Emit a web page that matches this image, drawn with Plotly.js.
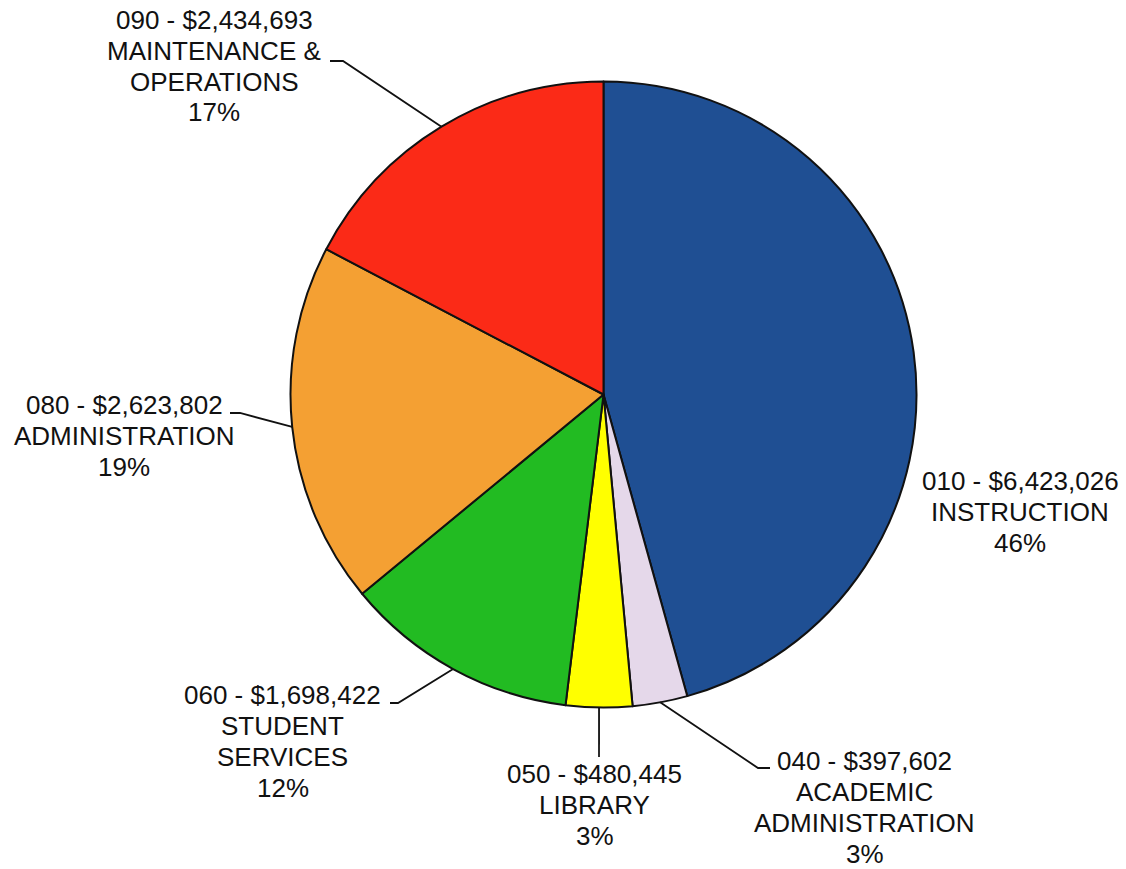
<!DOCTYPE html>
<html>
<head>
<meta charset="utf-8">
<script src="https://cdn.plot.ly/plotly-3.0.1.min.js"></script>
<style>
  html, body { margin: 0; padding: 0; background: #ffffff; }
  #chart { width: 1126px; height: 869px; }
</style>
</head>
<body>
<div id="chart"></div>
<script>
// Budget by program code
const codes = ['010', '040', '050', '060', '080', '090'];
const nameLines = [
  ['INSTRUCTION'],
  ['ACADEMIC', 'ADMINISTRATION'],
  ['LIBRARY'],
  ['STUDENT', 'SERVICES'],
  ['ADMINISTRATION'],
  ['MAINTENANCE &', 'OPERATIONS']
];
const amounts = [6423026, 397602, 480445, 1698422, 2623802, 2434693];
const colors = ['#1f4f93', '#e5d8ea', '#ffff00', '#22bb22', '#f4a033', '#fb2a17'];

// Page geometry (pixels)
const W = 1126, H = 869;
const CX = 603.5, CY = 394.5, R = 313;

// Label block placement: centre x and first-line y, plus leader elbow/end points
const labelPos = [
  { x: 1020,  y: 480.5, leader: null },
  { x: 864.5, y: 761,   leader: [[758, 768], [770, 768]] },
  { x: 594.5, y: 774,   leader: [[599, 757]] },
  { x: 282.5, y: 695,   leader: [[398, 703], [390, 703]] },
  { x: 124,   y: 405,   leader: [[240, 413], [230, 413]] },
  { x: 214,   y: 19.5,  leader: [[343, 61], [330, 61]] }
];
const LINE_PITCH = 31;
const FONT = { family: 'Liberation Sans, Arial, sans-serif', size: 26, color: '#111111' };

const px = x => x / W;
const py = y => 1 - y / H;

const total = amounts.reduce((a, b) => a + b, 0);

const annotations = [];
const shapes = [];
let cum = 0;
amounts.forEach((v, i) => {
  const frac = v / total;
  const mid = (cum + frac / 2) * 2 * Math.PI; // clockwise from 12 o'clock
  cum += frac;
  const lines = [
    codes[i] + ' - $' + v.toLocaleString('en-US'),
    ...nameLines[i],
    Math.round(frac * 100) + '%'
  ];
  const p = labelPos[i];
  lines.forEach((t, k) => {
    annotations.push({
      xref: 'paper', yref: 'paper',
      x: px(p.x), y: py(p.y + k * LINE_PITCH),
      xanchor: 'center', yanchor: 'middle',
      text: t, showarrow: false, font: FONT
    });
  });
  if (p.leader) {
    const ex = CX + R * Math.sin(mid);
    const ey = CY - R * Math.cos(mid);
    let path = 'M ' + px(ex) + ' ' + py(ey);
    p.leader.forEach(pt => { path += ' L ' + px(pt[0]) + ' ' + py(pt[1]); });
    shapes.push({
      type: 'path', xref: 'paper', yref: 'paper', path: path,
      line: { color: '#111111', width: 1.8 }
    });
  }
});

const trace = {
  type: 'pie',
  values: amounts,
  labels: codes,
  sort: false,
  direction: 'clockwise',
  rotation: 0,
  textinfo: 'none',
  hoverinfo: 'label+value+percent',
  marker: { colors: colors, line: { color: '#111111', width: 2 } },
  domain: { x: [px(CX - R), px(CX + R)], y: [py(CY + R), py(CY - R)] },
  showlegend: false
};

const layout = {
  width: W, height: H,
  margin: { l: 0, r: 0, t: 0, b: 0 },
  paper_bgcolor: '#ffffff',
  plot_bgcolor: '#ffffff',
  showlegend: false,
  annotations: annotations,
  shapes: shapes
};

Plotly.newPlot('chart', [trace], layout, { displayModeBar: false, staticPlot: true });
</script>
</body>
</html>
